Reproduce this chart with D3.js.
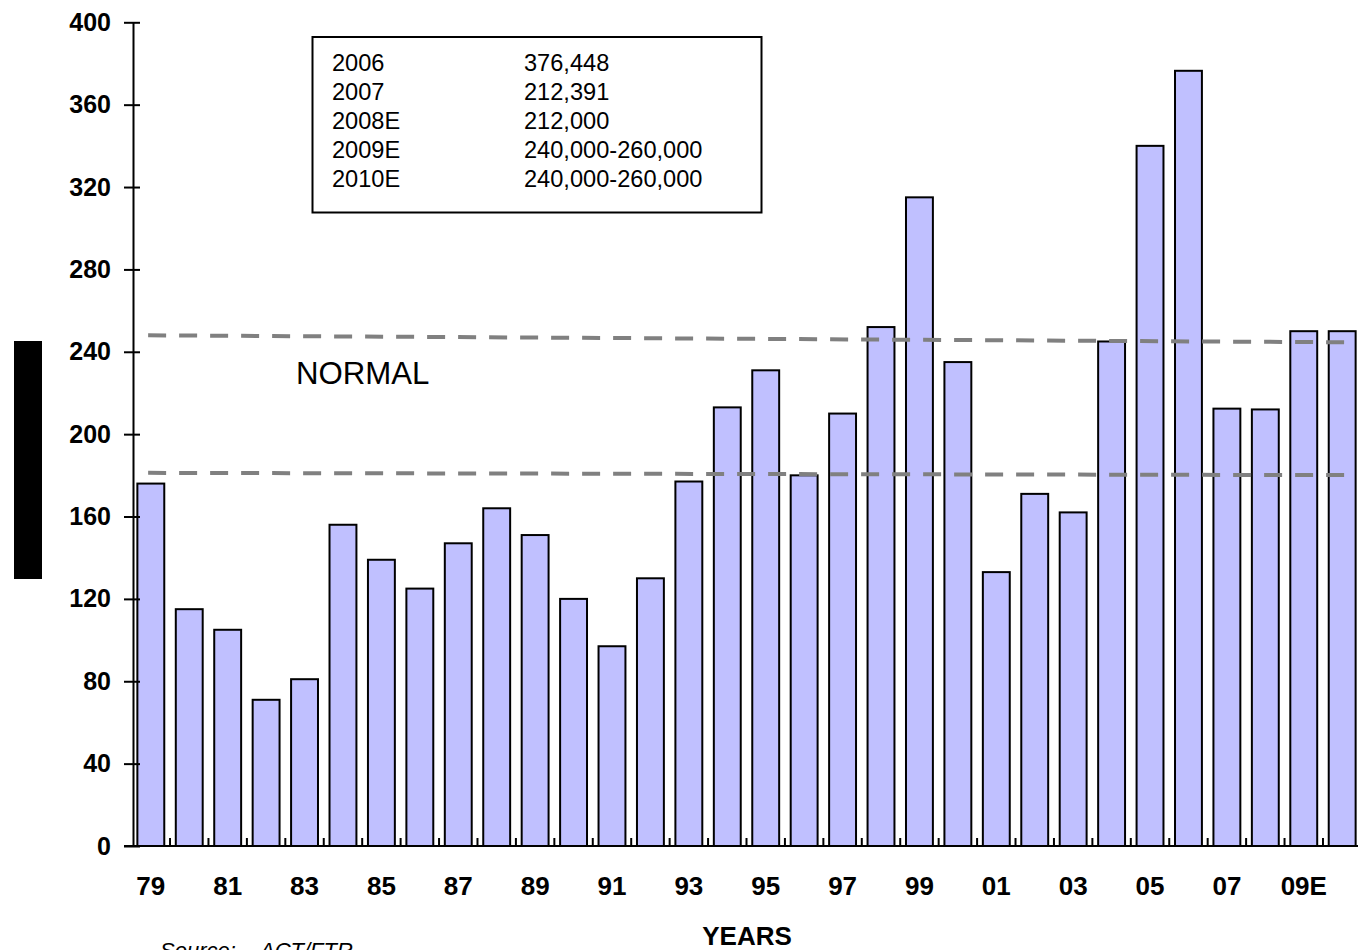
<!DOCTYPE html>
<html>
<head>
<meta charset="utf-8">
<script src="https://cdn.jsdelivr.net/npm/d3@7"></script>
<style>
  html, body { margin: 0; padding: 0; background: #fff; }
  svg { display: block; }
  text { font-family: "Liberation Sans", Arial, sans-serif; }
</style>
</head>
<body>
<svg id="chart" width="1358" height="950"></svg>
<script>
// Annual orders, thousands of units
const years = ["79","80","81","82","83","84","85","86","87","88","89","90","91","92","93","94",
               "95","96","97","98","99","00","01","02","03","04","05","06","07","08E","09E","10E"];
const orders = [176,115,105,71,81,156,139,125,147,164,151,120,97,130,177,213,
                231,180,210,252,315,235,133,171,162,245,340,376.448,212.391,212,250,250];

// "Normal" band: start and end level of the upper and lower dashed guides
const normalHigh = [248, 244.6];
const normalLow = [181.2, 180.1];

const yTicks = [0,40,80,120,160,200,240,280,320,360,400];

const legendYears = ["2006","2007","2008E","2009E","2010E"];
const legendValues = ["376,448","212,391","212,000","240,000-260,000","240,000-260,000"];

const svg = d3.select("#chart");

const y = d3.scaleLinear().domain([0, 400]).range([846, 22.3]);
const x = d3.scaleBand().domain(years).range([131.6, 1361.4])
  .paddingInner(0.3).paddingOuter(0.15);
const step = x.step();
const axisX = 133;

// redacted vertical axis title
svg.append("rect").attr("x", 14).attr("y", 341).attr("width", 28).attr("height", 238).attr("fill", "#000");

// bars
svg.append("g").selectAll("rect").data(years).join("rect")
  .attr("x", d => x(d))
  .attr("y", (d, i) => y(orders[i]))
  .attr("width", x.bandwidth())
  .attr("height", (d, i) => y(0) - y(orders[i]))
  .attr("fill", "#C0C0FF")
  .attr("stroke", "#000")
  .attr("stroke-width", 2);

// dashed normal-range guides
const gx0 = x.range()[0] + step * 0.43;
const gx1 = x.range()[1] - step * 0.35;
svg.append("g").selectAll("line").data([normalHigh, normalLow]).join("line")
  .attr("x1", gx0).attr("x2", gx1)
  .attr("y1", d => y(d[0])).attr("y2", d => y(d[1]))
  .attr("stroke", "#808080")
  .attr("stroke-width", 4)
  .attr("stroke-dasharray", "18 13");

svg.append("text").attr("x", 296).attr("y", 384)
  .attr("font-size", 31.2).attr("fill", "#000").text("NORMAL");

// y axis
const yAxis = svg.append("g").attr("transform", `translate(${axisX},0)`)
  .call(d3.axisLeft(y).tickValues(yTicks).tickSizeInner(9).tickSizeOuter(0).tickPadding(13));
yAxis.select(".domain").attr("stroke", "#000").attr("stroke-width", 2);
yAxis.selectAll(".tick line").attr("x1", 7).attr("stroke", "#000").attr("stroke-width", 2);
yAxis.selectAll(".tick text")
  .attr("font-family", "'Liberation Sans', Arial, sans-serif")
  .attr("font-size", 25).attr("font-weight", "bold").attr("fill", "#000");

// x axis: baseline, boundary ticks, alternate labels
const xAxis = svg.append("g").attr("transform", `translate(0,${y(0)})`)
  .call(d3.axisBottom(x).tickValues(years.filter((d, i) => i % 2 === 0)).tickSize(0).tickPadding(0));
xAxis.select(".domain").remove();
xAxis.selectAll(".tick text")
  .attr("dy", null).attr("y", 49)
  .attr("font-family", "'Liberation Sans', Arial, sans-serif")
  .attr("font-size", 26).attr("font-weight", "bold").attr("fill", "#000");
xAxis.append("line").attr("x1", axisX - 9).attr("x2", 1400).attr("y1", 0).attr("y2", 0)
  .attr("stroke", "#000").attr("stroke-width", 2);
xAxis.append("g").selectAll("line").data(years.slice(1)).join("line")
  .attr("x1", d => x(d) - step * 0.15).attr("x2", d => x(d) - step * 0.15)
  .attr("y1", 0).attr("y2", -8)
  .attr("stroke", "#000").attr("stroke-width", 2);

svg.append("text").attr("x", 747).attr("y", 945).attr("text-anchor", "middle")
  .attr("font-size", 26).attr("font-weight", "bold").attr("fill", "#000").text("YEARS");

// data table box
const box = svg.append("g");
box.append("rect").attr("x", 312.5).attr("y", 37).attr("width", 449).attr("height", 175.5)
  .attr("fill", "#fff").attr("stroke", "#000").attr("stroke-width", 2);
box.selectAll("text.yr").data(legendYears).join("text").attr("class", "yr")
  .attr("x", 332).attr("y", (d, i) => 70.7 + i * 29)
  .attr("font-size", 23.6).attr("fill", "#000").text(d => d);
box.selectAll("text.val").data(legendValues).join("text").attr("class", "val")
  .attr("x", 524).attr("y", (d, i) => 70.7 + i * 29)
  .attr("font-size", 23.6).attr("fill", "#000").text(d => d);

// source note
const src = svg.append("text").attr("y", 958)
  .attr("font-family", "'Liberation Serif', 'Times New Roman', serif")
  .attr("font-style", "italic").attr("font-size", 22).attr("fill", "#000");
src.append("tspan").attr("x", 160).text("Source:");
src.append("tspan").attr("x", 260).text("ACT/FTR");
</script>
</body>
</html>
